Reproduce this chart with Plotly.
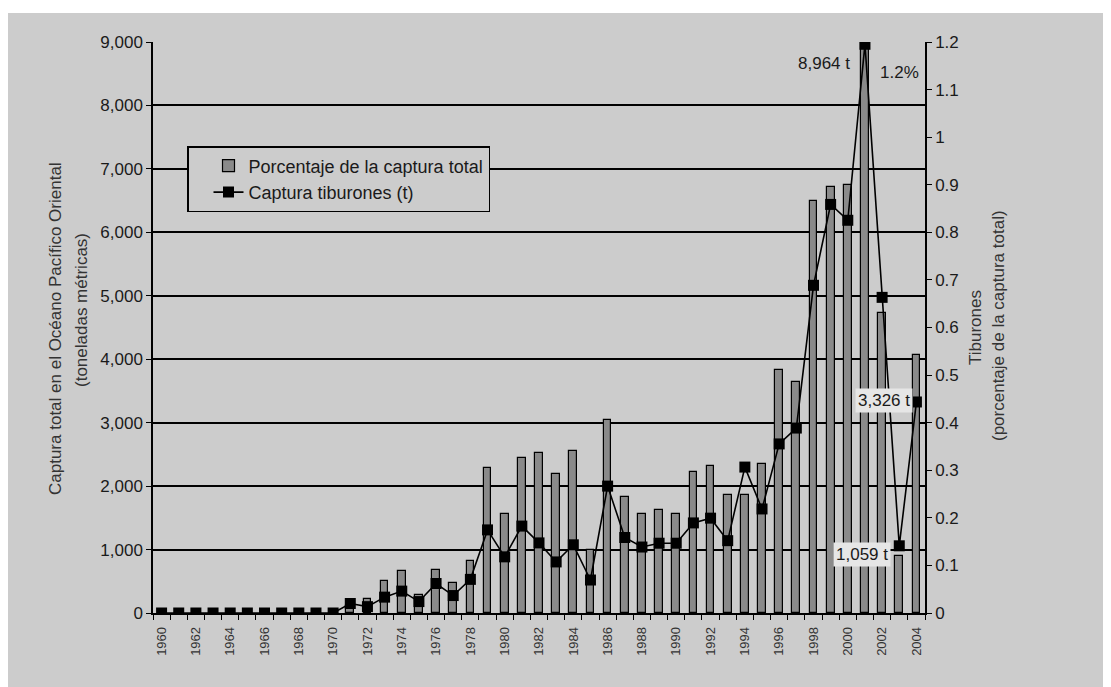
import plotly.graph_objects as go

# ---------------- data ----------------
years = list(range(1960, 2005))

captura_t = [0, 0, 0, 0, 0, 0, 0, 0, 0, 0, 0,
             150, 100, 250, 345, 180, 465, 275, 530, 1310, 885,
             1370, 1105, 805, 1075, 520, 2000, 1190, 1040, 1100, 1100,
             1420, 1495, 1140, 2300, 1640, 2665, 2915, 5165, 6440, 6190,
             8964, 4975, 1059, 3326]

porcentaje = [0, 0, 0, 0, 0, 0, 0, 0, 0, 0, 0,
              0.015, 0.029, 0.067, 0.088, 0.038, 0.091, 0.063, 0.109, 0.305, 0.208,
              0.325, 0.337, 0.292, 0.341, 0.133, 0.405, 0.243, 0.209, 0.217, 0.209,
              0.296, 0.309, 0.247, 0.247, 0.313, 0.51, 0.486, 0.866, 0.895, 0.90,
              1.2, 0.63, 0.12, 0.543]

xtick_years = list(range(1960, 2005, 2))
xtick_text = [str(y) for y in xtick_years]

left_ticks = list(range(0, 9001, 1000))
right_ticks = [round(i * 0.1, 1) for i in range(13)]
right_text = ["0", "0.1", "0.2", "0.3", "0.4", "0.5", "0.6", "0.7", "0.8", "0.9", "1", "1.1", "1.2"]

# ---------------- layout constants ----------------
W, H = 1111, 687
OFF = 8                      # page body margin of the html page
PL, PR, PT, PB = 153, 925, 42, 613   # plot area in screen pixels
ML, MT = PL - OFF, PT - OFF
MR = W - (PR - OFF)
MB = H - (PB - OFF)
PW = PR - PL
PH = PB - PT
BG = "#cccccc"
FONT = "Liberation Sans, Arial, sans-serif"


def px(xs, ys):
    """screen pixel -> paper coordinates"""
    return (xs - PL) / PW, (PB - ys) / PH


fig = go.Figure()

fig.add_trace(go.Bar(
    x=years, y=porcentaje, yaxis="y",
    name="Porcentaje de la captura total", legendgroup="a",
    marker=dict(color="#8a8a8a", line=dict(color="black", width=1.2)),
    width=0.45,
))

fig.add_trace(go.Scatter(
    x=years, y=captura_t, yaxis="y2",
    name="Captura tiburones (t)", legendgroup="b",
    mode="lines+markers",
    line=dict(color="black", width=1.6),
    marker=dict(symbol="square", size=11, color="black"),
))

lx, ly = px(187, 146)
fig.update_layout(
    width=W, height=H,
    margin=dict(l=ML, r=MR, t=MT, b=MB),
    paper_bgcolor=BG, plot_bgcolor=BG,
    font=dict(family=FONT, size=17, color="#1a1a1a"),
    showlegend=True,
    legend=dict(
        x=lx, y=ly, xanchor="left", yanchor="top",
        bgcolor=BG, bordercolor="black", borderwidth=1.5,
        font=dict(size=18, family=FONT, color="#1a1a1a"),
        tracegroupgap=0, indentation=20,
    ),
    bargap=0,
    xaxis=dict(
        range=[1959.5, 2004.5],
        tickmode="array", tickvals=xtick_years, ticktext=xtick_text,
        tickangle=-90, ticks="", tickfont=dict(size=13, color="#333333"),
        ticklabelstandoff=7,
        showgrid=False, zeroline=False,
        showline=True, linecolor="black", linewidth=1.5,
        minor=dict(tick0=1959.5, dtick=1, ticks="outside", ticklen=5,
                   tickcolor="black", tickwidth=1.2, showgrid=False),
    ),
    yaxis=dict(
        side="right", range=[0, 1.2],
        tickmode="array", tickvals=right_ticks, ticktext=right_text,
        ticks="outside", ticklen=5, tickcolor="black", tickwidth=1.2,
        showline=True, linecolor="black", linewidth=1.5,
        showgrid=False, zeroline=False,
        tickfont=dict(size=17),
    ),
    yaxis2=dict(
        side="left", overlaying="y", anchor="x", range=[0, 9000],
        tickmode="array", tickvals=left_ticks,
        ticktext=[f"{v:,}" for v in left_ticks],
        ticks="outside", ticklen=5, tickcolor="black", tickwidth=1.2,
        showline=True, linecolor="black", linewidth=1.5,
        showgrid=True, gridcolor="black", gridwidth=1.5,
        zeroline=False,
        tickfont=dict(size=17),
    ),
)

# white strip at the top of the image
fig.add_shape(type="rect", xref="paper", yref="paper", layer="below",
              x0=-ML / PW, x1=(W - ML) / PW,
              y0=px(0, 13)[1], y1=(PH + MT) / PH,
              fillcolor="white", line=dict(width=0))

# axis titles (rotated text)
title_font = dict(size=17, color="#333333", family=FONT)
for text, (xs, ys) in [
    ("Captura total en el Océano Pacífico Oriental", (55, 329)),
    ("(toneladas métricas)", (81, 310)),
    ("Tiburones", (975, 328)),
    ("(porcentaje de la captura total)", (998, 325)),
]:
    ax_, ay_ = px(xs, ys)
    fig.add_annotation(x=ax_, y=ay_, xref="paper", yref="paper", text=text,
                       textangle=-90, showarrow=False, xanchor="center",
                       yanchor="middle", font=title_font)

i01 = years.index(2001)
i03 = years.index(2003)
i04 = years.index(2004)

fig.add_annotation(x=years[i01], y=captura_t[i01], xref="x", yref="y2",
                   text=f"{captura_t[i01]:,} t", showarrow=False,
                   xanchor="right", yanchor="middle", xshift=-13, yshift=-19,
                   font=dict(size=17, color="#1a1a1a"))
fig.add_annotation(x=years[i01], y=porcentaje[i01], xref="x", yref="y",
                   text=f"{porcentaje[i01]}%", showarrow=False,
                   xanchor="left", yanchor="middle", xshift=13, yshift=-30,
                   font=dict(size=17, color="#1a1a1a"))
fig.add_annotation(x=years[i04], y=captura_t[i04], xref="x", yref="y2",
                   text=f"{captura_t[i04]:,} t", showarrow=False,
                   xanchor="right", yanchor="middle", xshift=-3, yshift=1,
                   bgcolor="#e6e6e6", borderpad=2,
                   font=dict(size=17, color="#1a1a1a"))
fig.add_annotation(x=years[i03], y=captura_t[i03], xref="x", yref="y2",
                   text=f"{captura_t[i03]:,} t", showarrow=False,
                   xanchor="right", yanchor="middle", xshift=-8, yshift=-9,
                   bgcolor="#e6e6e6", borderpad=2,
                   font=dict(size=17, color="#1a1a1a"))

fig.write_html("out.html")
